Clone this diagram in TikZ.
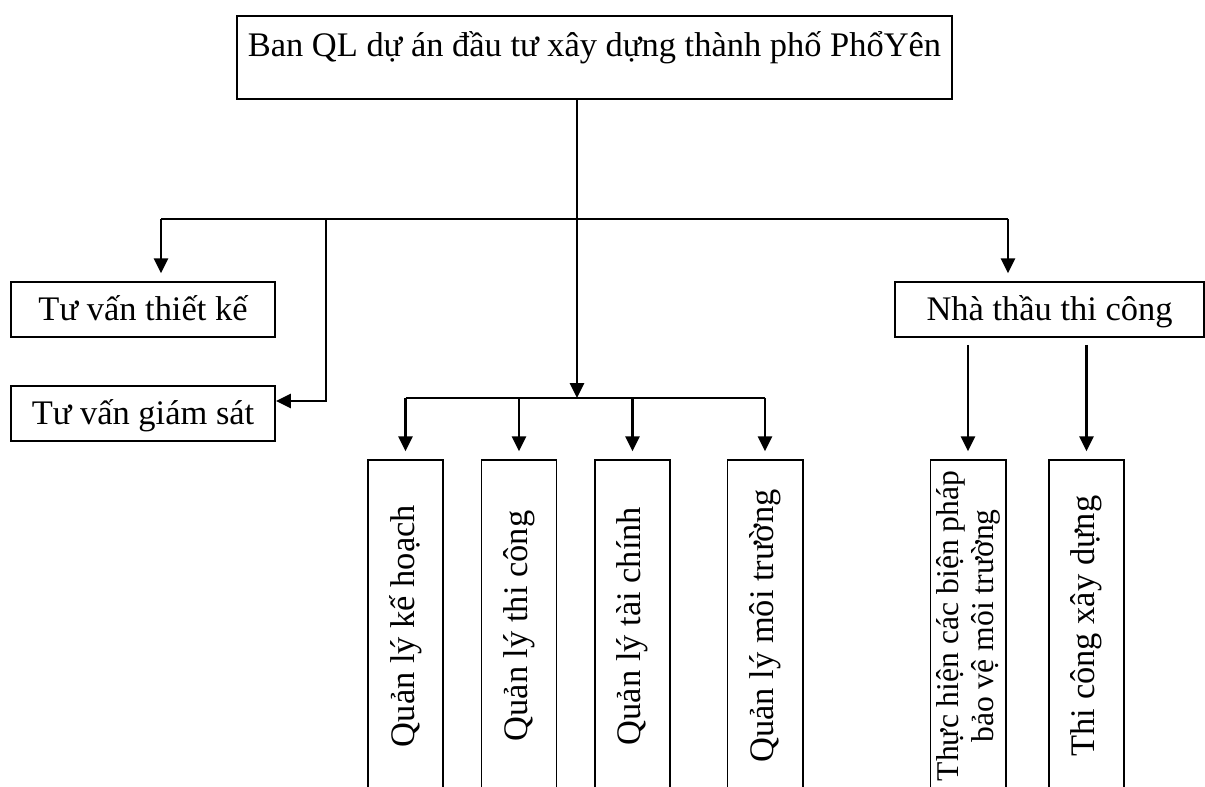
\documentclass[tikz,border=0pt]{standalone}
\usepackage{fontspec}
\setmainfont{Liberation Serif}
\usetikzlibrary{arrows.meta,positioning,calc}
\newcommand{\chartfont}{\fontsize{24.5}{29}\selectfont}
\newcommand{\smallchartfont}{\fontsize{22.5}{25}\selectfont}
\tikzset{
  box/.style={draw, line width=1.4pt, inner sep=0pt, font=\chartfont},
  flat/.style={box, anchor=north west, minimum width=6.6cm, text height=27.5pt, text depth=11.5pt},
  tall/.style={box, rotate=90, minimum width=8.3cm, minimum height=1.875cm},
  wire/.style={line width=1.5pt},
  link/.style={wire, -{Triangle[length=10.5pt,width=10pt]}},
}
\begin{document}
\begin{tikzpicture}[x=0.025cm, y=-0.025cm]
\useasboundingbox (0,0) rectangle (1205,787);
\clip (0,0) rectangle (1205,787);
\node[box, anchor=base, minimum width=17.875cm, text height=29.2pt, text depth=29.9pt] (banql) at (594.5,57) {Ban QL dự án đầu tư xây dựng thành phố PhổYên};
\node[flat] (tvtk) at (10,281) {Tư vấn thiết kế};
\node[flat] (tvgs) at (10,385) {Tư vấn giám sát};
\node[flat, minimum width=7.725cm] (ntcong) at (894,281) {Nhà thầu thi công};
\foreach \x/\nm/\lbl in {405.5/qlkh/{Quản lý kế hoạch}, 519/qltc/{Quản lý thi công},
    632.5/qltch/{Quản lý tài chính}, 765/qlmt/{Quản lý môi trường}, 1086.5/tcxd/{Thi công xây dựng}}{
  \node[tall] (\nm) at (\x,626) {\lbl};
}
\node[tall, font=\smallchartfont, align=center] (thbp) at (968,626) {Thực hiện các biện pháp\\ bảo vệ môi trường};
\coordinate (lt) at (161,219);
\coordinate (rt) at (1008,219);
\coordinate (gs) at (326,219);
\coordinate (gsknee) at (326,401);
\coordinate (split) at (577,398);
\draw[link] (split |- banql.south) -- (split);
\draw[wire] (lt) -- (rt);
\draw[link, shorten >=5.5pt] (lt) -- (lt |- tvtk.north);
\draw[link, shorten >=5.5pt] (rt) -- (rt |- ntcong.north);
\draw[link] (gs) -- (gsknee) -- (gsknee -| tvgs.east);
\draw[wire] (split -| qlkh.east) -- (split -| qlmt.east);
\foreach \nm in {qlkh,qltc,qltch,qlmt}{
  \draw[link, shorten >=5.5pt] (split -| \nm.east) -- (\nm.east);
}
\foreach \nm in {thbp,tcxd}{
  \draw[link, shorten <=5pt, shorten >=5.5pt] (ntcong.south -| \nm.east) -- (\nm.east);
}
\end{tikzpicture}
\end{document}
